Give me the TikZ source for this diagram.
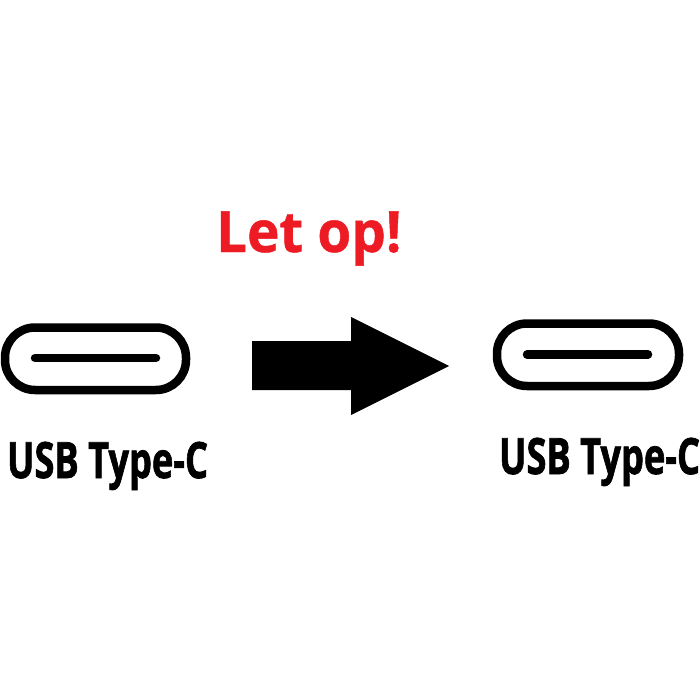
\documentclass[tikz,border=0pt]{standalone}
\usepackage{fontspec}
\setmainfont{Open Sans}
\newfontfamily\usbfont[BoldFeatures={FakeBold=1.6}]{Open Sans}
\newfontfamily\warnfont[BoldFeatures={FakeBold=0.8}]{Open Sans}
\definecolor{warnred}{HTML}{ED1C24}
\tikzset{
  port/.style={draw=black,line width=8.5pt,rounded corners=30pt,fill=white},
  tongue/.style={draw=black,line width=8.5pt,line cap=round},
  usblabel/.style={anchor=base west,inner sep=0pt,xscale=0.724,font=\usbfont\fontsize{50}{50}\selectfont\bfseries,text=black},
  warnlabel/.style={anchor=base west,inner sep=0pt,xscale=0.96,font=\warnfont\fontsize{57}{57}\selectfont\bfseries,text=warnred}
}
\begin{document}
\begin{tikzpicture}[x=1pt,y=-1pt]
\useasboundingbox (0,0) rectangle (700,700);
\fill[white] (0,0) rectangle (700,700);
\node[warnlabel] (warn) at (216,252) {Let op!};
% left port
\draw[port] (5,327.5) rectangle (186,390);
\draw[tongue] (35,358) -- (156,358);
\node[usblabel] (usbL) at (7,478) {USB Type-C};
% arrow
\fill[black] (252,341) -- (351,341) -- (351,317) -- (449,366) -- (351,415) -- (351,390) -- (252,390) -- cycle;
% right port
\draw[port] (497,323.5) rectangle (679,386);
\draw[tongue] (527,354.5) -- (648,354.5);
\node[usblabel] (usbR) at (499,474) {USB Type-C};
\end{tikzpicture}
\end{document}
